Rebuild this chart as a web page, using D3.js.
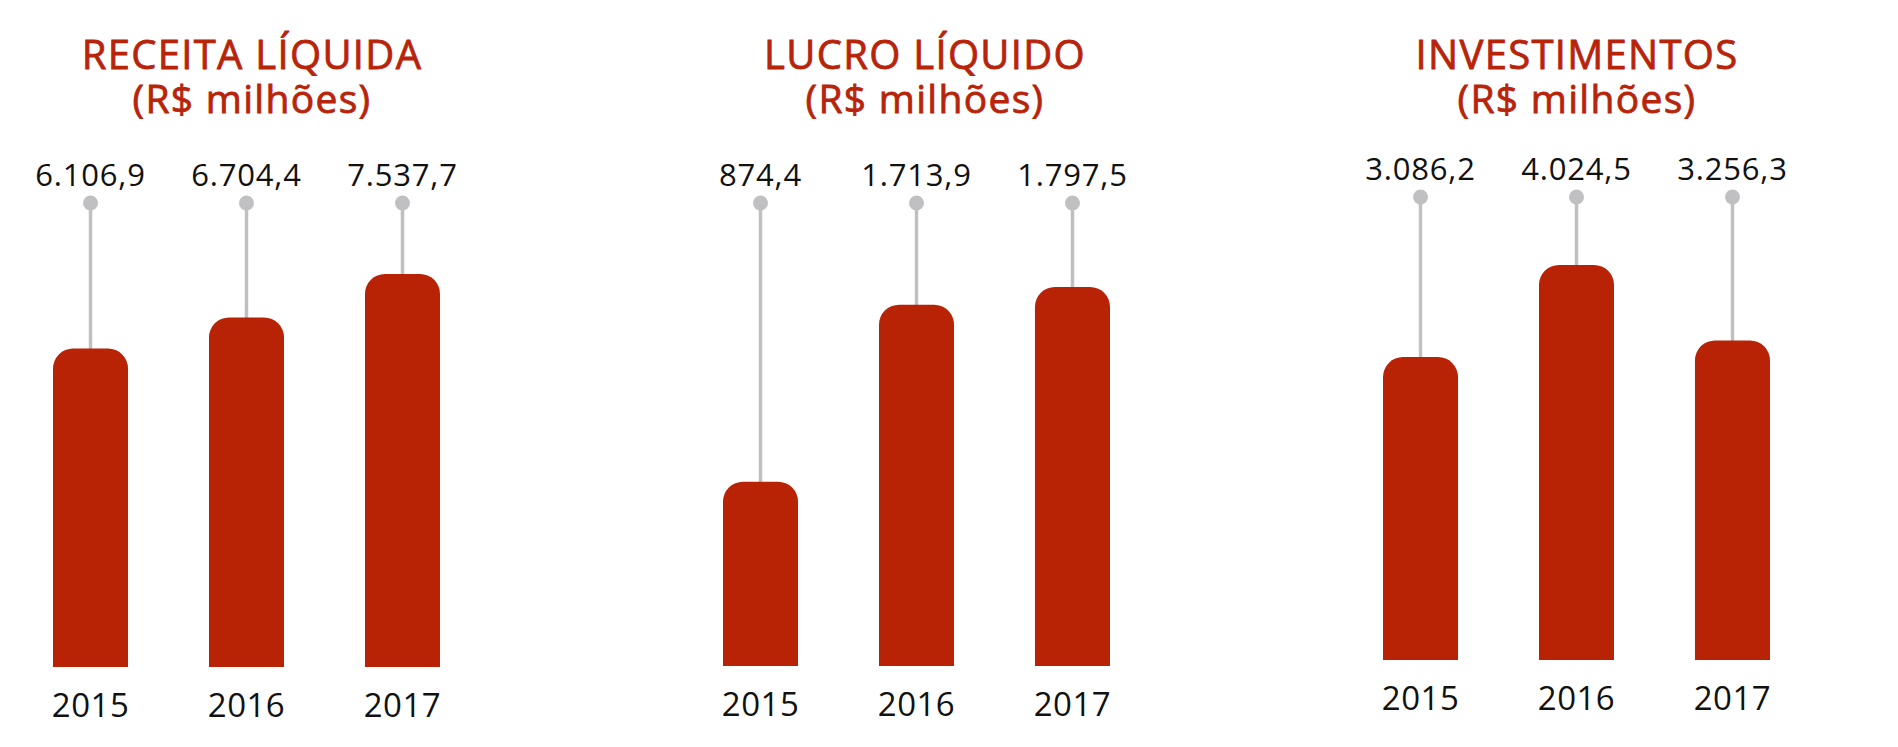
<!DOCTYPE html>
<html>
<head>
<meta charset="utf-8">
<script src="https://cdn.jsdelivr.net/npm/d3@7"></script>
<style>
  html, body { margin: 0; padding: 0; background: #ffffff; }
  svg { display: block; }
  text { font-family: "Open Sans", "Noto Sans", sans-serif; }
</style>
</head>
<body>
<svg id="chart" width="1898" height="747"></svg>
<script>
// ---- data ----
const years = ["2015", "2016", "2017"];
const receitaLiquida = [6106.9, 6704.4, 7537.7];
const lucroLiquido = [874.4, 1713.9, 1797.5];
const investimentos = [3086.2, 4024.5, 3256.3];
const titlesLine1 = ["RECEITA LÍQUIDA", "LUCRO LÍQUIDO", "INVESTIMENTOS"];
const titleLine2 = "(R$ milhões)";

// ---- layout ----
const panels = [
  { values: receitaLiquida, x0: 53, titleX: 252, bottom: 667, maxH: 393, dotY: 203 },
  { values: lucroLiquido,   x0: 723, titleX: 925, bottom: 666, maxH: 379, dotY: 203 },
  { values: investimentos,  x0: 1383, titleX: 1577, bottom: 660, maxH: 395, dotY: 197 }
];

const barColor = "#b82306";
const titleColor = "#b8240a";
const stemColor = "#c0c0c2";

const ptBR = d3.formatLocale({ decimal: ",", thousands: ".", grouping: [3], currency: ["R$ ", ""] });
const fmt = ptBR.format(",.1f");

const svg = d3.select("#chart");

function barPath(x, y, w, bottom, r) {
  const rr = Math.min(r, (bottom - y) / 2, w / 2);
  return `M${x},${bottom}V${y + rr}A${rr},${rr} 0 0 1 ${x + rr},${y}H${x + w - rr}A${rr},${rr} 0 0 1 ${x + w},${y + rr}V${bottom}Z`;
}

panels.forEach((p, i) => {
  const g = svg.append("g");

  const x = d3.scaleBand()
    .domain(years)
    .range([p.x0, p.x0 + 387])
    .paddingInner(0.519)
    .paddingOuter(0);

  const y = d3.scaleLinear()
    .domain([0, d3.max(p.values)])
    .range([p.bottom, p.bottom - p.maxH]);

  const data = years.map((yr, j) => ({ year: yr, value: p.values[j] }));

  // two-line title as one text element
  const t = g.append("text")
    .attr("text-anchor", "middle")
    .attr("fill", titleColor)
    .attr("stroke", titleColor)
    .attr("stroke-width", 0.8)
    .attr("font-weight", 400);
  t.append("tspan")
    .attr("x", p.titleX).attr("y", 69)
    .attr("font-size", 40)
    .attr("letter-spacing", 1.3)
    .text(titlesLine1[i]);
  t.append("tspan")
    .attr("x", p.titleX).attr("y", 113)
    .attr("font-size", 39)
    .attr("letter-spacing", 1.3)
    .text(titleLine2);

  // stems
  g.selectAll(".stem").data(data).enter().append("line")
    .attr("x1", d => x(d.year) + x.bandwidth() / 2)
    .attr("x2", d => x(d.year) + x.bandwidth() / 2)
    .attr("y1", p.dotY)
    .attr("y2", d => y(d.value) + 2)
    .attr("stroke", stemColor)
    .attr("stroke-width", 3.5);

  g.selectAll(".dot").data(data).enter().append("circle")
    .attr("cx", d => x(d.year) + x.bandwidth() / 2)
    .attr("cy", p.dotY)
    .attr("r", 7.5)
    .attr("fill", stemColor);

  // bars
  g.selectAll(".bar").data(data).enter().append("path")
    .attr("d", d => barPath(x(d.year), y(d.value), x.bandwidth(), y(0), 20))
    .attr("fill", barColor);

  // value labels
  g.selectAll(".val").data(data).enter().append("text")
    .attr("x", d => x(d.year) + x.bandwidth() / 2)
    .attr("y", p.dotY - 17)
    .attr("text-anchor", "middle")
    .attr("fill", "#111111")
    .attr("font-size", 31)
    .attr("letter-spacing", 0.8)
    .text(d => fmt(d.value));

  // year labels (axis)
  const axis = d3.axisBottom(x).tickSize(0).tickPadding(0);
  const ag = g.append("g")
    .attr("transform", `translate(0,${p.bottom + 50})`)
    .call(axis);
  ag.select(".domain").remove();
  ag.selectAll("text")
    .attr("dy", 0)
    .attr("y", 0)
    .attr("fill", "#111111")
    .attr("font-size", 33)
    .attr("font-family", "'Open Sans', 'Noto Sans', sans-serif")
    .attr("letter-spacing", 0.5);
});
</script>
</body>
</html>
